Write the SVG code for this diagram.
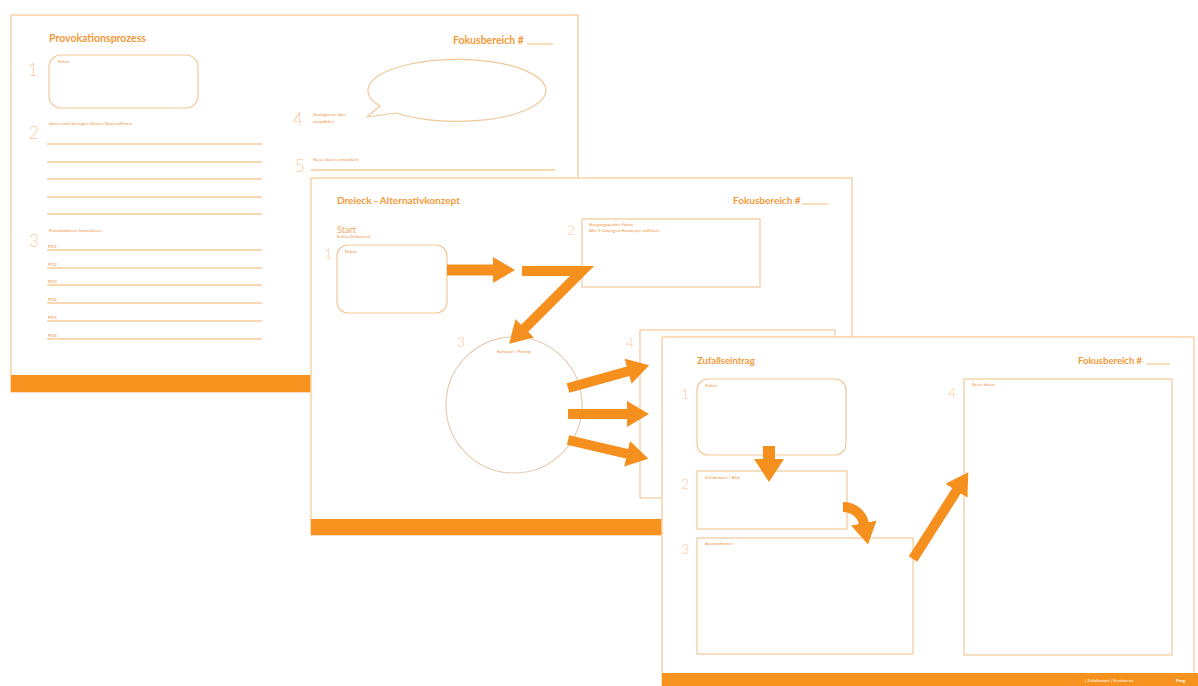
<svg xmlns="http://www.w3.org/2000/svg" width="1198" height="686" viewBox="0 0 1198 686">
  <style>
    .sheet { fill: #ffffff; stroke: #F9D4A6; stroke-width: 1.5; }
    .band { fill: #F7921E; }
    .title { font-family: Lato, "Open Sans", sans-serif; font-weight: 700; fill: #F39A3A; }
    .num { font-family: Lato, "Open Sans", sans-serif; font-weight: 300; fill: #F7CBA2; }
    .tiny { font-family: Lato, "Open Sans", sans-serif; font-size: 4.5px; fill: #EE9442; }
    .box { fill: none; stroke: #F1C898; stroke-width: 1.2; }
    .rule { stroke: #F8CB98; stroke-width: 1.3; }
    .foot { font-family: Lato, "Open Sans", sans-serif; font-size: 4.5px; fill: #ffffff; }
    .arrow { fill: none; stroke: #F5901E; }
  </style>
  <defs>
    <marker id="head" markerUnits="userSpaceOnUse" viewBox="0 0 22 26" refX="1" refY="13" markerWidth="22" markerHeight="26" orient="auto">
      <path d="M0,0 L22,13 L0,26 Z" fill="#F5901E"/>
    </marker>
    <marker id="headBig" markerUnits="userSpaceOnUse" viewBox="0 0 23 30" refX="1" refY="15" markerWidth="23" markerHeight="30" orient="auto">
      <path d="M0,0 L23,15 L0,30 Z" fill="#F5901E"/>
    </marker>
  </defs>

  <rect width="1198" height="686" fill="#ffffff"/>

  <!-- Sheet 1: Provokationsprozess -->
  <g id="sheet-provokation">
    <rect class="sheet" x="11" y="15" width="567" height="377"/>
    <rect class="band" x="11" y="375" width="567" height="17"/>
    <text class="title" x="49" y="42" font-size="10.5">Provokationsprozess</text>
    <text class="title" x="453" y="44" font-size="10.5">Fokusbereich #</text>
    <line class="rule" x1="527" y1="44" x2="553" y2="44" stroke="#F39A3A"/>
    <g id="p-fokus">
      <text class="num" x="28" y="76" font-size="17">1</text>
      <rect class="box" x="49" y="55" width="149" height="53" rx="12"/>
      <text class="tiny" x="58" y="63">Fokus</text>
    </g>
    <g id="p-ideen">
      <text class="num" x="29" y="139" font-size="17">2</text>
      <text class="tiny" x="49" y="125">Ideen und Lösungen (Status Quo) auflisten</text>
      <line class="rule" x1="47" y1="144" x2="262" y2="144"/>
      <line class="rule" x1="47" y1="162" x2="262" y2="162"/>
      <line class="rule" x1="47" y1="179" x2="262" y2="179"/>
      <line class="rule" x1="47" y1="197" x2="262" y2="197"/>
      <line class="rule" x1="47" y1="214" x2="262" y2="214"/>
    </g>
    <g id="p-provokationen">
      <text class="num" x="29" y="247" font-size="17">3</text>
      <text class="tiny" x="49" y="232">Provokationen formulieren</text>
      <text class="tiny" x="48" y="248">PO1</text>
      <line class="rule" x1="47" y1="250" x2="262" y2="250"/>
      <text class="tiny" x="48" y="266">PO2</text>
      <line class="rule" x1="47" y1="268" x2="262" y2="268"/>
      <text class="tiny" x="48" y="283">PO3</text>
      <line class="rule" x1="47" y1="285" x2="262" y2="285"/>
      <text class="tiny" x="48" y="301">PO4</text>
      <line class="rule" x1="47" y1="303" x2="262" y2="303"/>
      <text class="tiny" x="48" y="319">PO5</text>
      <line class="rule" x1="47" y1="321" x2="262" y2="321"/>
      <text class="tiny" x="48" y="337">PO6</text>
      <line class="rule" x1="47" y1="339" x2="262" y2="339"/>
    </g>
    <g id="p-gewagt">
      <text class="num" x="293" y="125" font-size="17">4</text>
      <text class="tiny" x="313" y="116">Gewagteste Idee</text>
      <text class="tiny" x="313" y="123">auswählen</text>
      <path class="box" d="M380,106 A89,31 0 1 1 396,113 L367,117 Z" stroke-linejoin="round"/>
    </g>
    <g id="p-neue">
      <text class="num" x="295" y="172" font-size="17">5</text>
      <text class="tiny" x="313" y="161">Neue Ideen entwickeln</text>
      <line class="rule" x1="311" y1="170" x2="555" y2="170"/>
    </g>
  </g>

  <!-- Sheet 2: Dreieck - Alternativkonzept -->
  <g id="sheet-dreieck">
    <rect class="sheet" x="311" y="178" width="541" height="357"/>
    <rect class="band" x="311" y="519" width="541" height="16"/>
    <text class="title" x="337" y="204" font-size="10">Dreieck - Alternativkonzept</text>
    <text class="title" x="733" y="204" font-size="10">Fokusbereich #</text>
    <line class="rule" x1="802" y1="204" x2="828" y2="204" stroke="#F39A3A"/>
    <g id="d-start">
      <text x="337" y="233" font-family="Lato, 'Open Sans', sans-serif" font-size="9" fill="#F5A862">Start</text>
      <text class="tiny" x="337" y="238">Fokus Definieren</text>
      <text class="num" x="324" y="259" font-size="14">1</text>
      <rect class="box" x="337" y="245" width="110" height="68" rx="11"/>
      <text class="tiny" x="345" y="253">Fokus</text>
    </g>
    <g id="d-ausgang">
      <text class="num" x="567" y="235" font-size="14">2</text>
      <rect class="box" x="582" y="219" width="178" height="68"/>
      <text class="tiny" x="589" y="226">Ausgangspunkt: Fokus</text>
      <text class="tiny" x="589" y="232">Alle 3 Lösungen/Konzepte auflisten</text>
    </g>
    <g id="d-konzept">
      <text class="num" x="457" y="347" font-size="14">3</text>
      <circle cx="514" cy="405" r="68" fill="none" stroke="#E6CDB3" stroke-width="1.2"/>
      <text class="tiny" x="514" y="353" text-anchor="middle">Konzept / Prinzip</text>
    </g>
    <g id="d-alternativen">
      <text class="num" x="626" y="348" font-size="14">4</text>
      <rect class="box" x="640" y="330" width="195" height="168"/>
    </g>
  </g>

  <!-- Sheet 3: Zufallseintrag -->
  <g id="sheet-zufall">
    <rect class="sheet" x="662" y="337" width="532" height="352"/>
    <rect class="band" x="662" y="673" width="536" height="13"/>
    <text class="title" x="697" y="364" font-size="9.5" font-weight="600">Zufallseintrag</text>
    <text class="title" x="1078" y="364" font-size="9.5" font-weight="600">Fokusbereich #</text>
    <line class="rule" x1="1146" y1="364" x2="1170" y2="364" stroke="#F39A3A"/>
    <text class="foot" x="1085" y="682">|  Zufallswort  |  Version xx</text>
    <text class="foot" x="1176" y="682" font-weight="700" font-size="6">Prog</text>
    <g id="z-fokus">
      <text class="num" x="681" y="399" font-size="14">1</text>
      <rect class="box" x="697" y="379" width="149" height="76" rx="11"/>
      <text class="tiny" x="705" y="387">Fokus</text>
    </g>
    <g id="z-wort">
      <text class="num" x="681" y="489" font-size="14">2</text>
      <rect class="box" x="697" y="471" width="150" height="58"/>
      <text class="tiny" x="705" y="479">Zufallswort / Bild</text>
    </g>
    <g id="z-assoz">
      <text class="num" x="681" y="554" font-size="14">3</text>
      <rect class="box" x="697" y="538" width="216" height="116"/>
      <text class="tiny" x="705" y="545">Assoziationen</text>
    </g>
    <g id="z-neue">
      <text class="num" x="948" y="398" font-size="14">4</text>
      <rect class="box" x="964" y="379" width="208" height="276"/>
      <text class="tiny" x="972" y="386">Neue Ideen</text>
    </g>
  </g>

  <!-- Connectors -->
  <g id="connectors">
    <line class="arrow" x1="447" y1="270" x2="494" y2="270" stroke-width="11" marker-end="url(#head)"/>
    <polyline class="arrow" points="522,271 582,271 524,329" stroke-width="10" stroke-miterlimit="12" marker-end="url(#head)"/>
    <line class="arrow" x1="568" y1="388" x2="629" y2="371" stroke-width="10" marker-end="url(#head)"/>
    <line class="arrow" x1="568" y1="414" x2="628" y2="414" stroke-width="10" marker-end="url(#head)"/>
    <line class="arrow" x1="568" y1="440" x2="628" y2="454" stroke-width="10" marker-end="url(#head)"/>
    <line class="arrow" x1="769" y1="446" x2="769" y2="460" stroke-width="12" marker-end="url(#headBig)"/>
    <path class="arrow" d="M843,507 A21,21 0 0 1 864,524" stroke-width="10" marker-end="url(#head)"/>
    <line class="arrow" x1="913" y1="559" x2="957" y2="490" stroke-width="10" marker-end="url(#head)"/>
  </g>
</svg>
